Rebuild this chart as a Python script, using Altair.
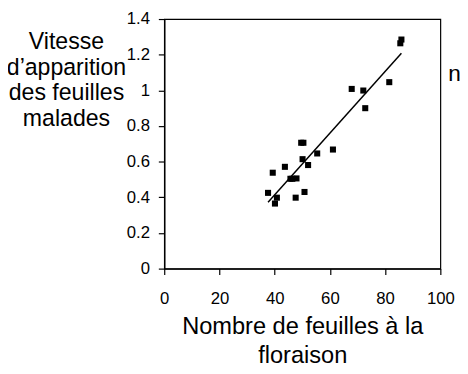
import altair as alt
import pandas as pd

leaves = [37.6, 39.3, 40.1, 40.8, 43.7, 45.7, 46.4, 47.9, 47.6, 49.6, 50.4,
          50.1, 50.8, 52.1, 55.4, 61.1, 67.9, 72.1, 72.8, 81.5, 85.5, 85.9]
speed = [0.425, 0.538, 0.365, 0.398, 0.571, 0.504, 0.504, 0.506, 0.398, 0.706, 0.706,
         0.614, 0.430, 0.581, 0.646, 0.668, 1.008, 0.999, 0.900, 1.046, 1.264, 1.285]

x_ticks = [0, 20, 40, 60, 80, 100]
y_ticks = [0, 0.2, 0.4, 0.6, 0.8, 1.0, 1.2, 1.4]

df = pd.DataFrame({"x": leaves, "y": speed})

FONT = "Liberation Sans"

xenc = alt.X("x:Q", scale=alt.Scale(domain=[0, 100], nice=False),
             axis=alt.Axis(values=x_ticks, title=["Nombre de feuilles à la", "floraison"],
                           labelFontSize=17, titleFontSize=24, labelPadding=17,
                           labelOverlap=False, labelFlush=False,
                           titlePadding=8, titleLineHeight=30, titleFontWeight="normal"))
yenc = alt.Y("y:Q", scale=alt.Scale(domain=[0, 1.4], nice=False),
             axis=alt.Axis(values=y_ticks, format=".1~f",
                           title=["Vitesse", "d’apparition", "des feuilles", "malades"],
                           labelFontSize=17, titleFontSize=23.5, labelPadding=9,
                           labelOverlap=False, labelFlush=False,
                           titleAngle=0, titleAlign="center", titleBaseline="top",
                           titleX=-100, titleY=11, titleLineHeight=26,
                           titleFontWeight="normal"))

base = alt.Chart(df)
points = base.mark_square(size=38, color="black", opacity=1).encode(x=xenc, y=yenc)
line = base.transform_regression("x", "y").mark_line(
    color="black", strokeWidth=1.5).encode(x=xenc, y=yenc)
stray = alt.Chart(pd.DataFrame({"t": ["n"]})).mark_text(
    align="left", baseline="alphabetic", fontSize=23, font=FONT, color="black"
).encode(x=alt.value(289), y=alt.value(63), text="t:N")

chart = alt.layer(points, line, stray).properties(
    width=281, height=254,
    autosize=alt.AutoSizeParams(type="none"),
    padding={"left": 159, "top": 8, "right": 20, "bottom": 104},
).configure_view(stroke="black", strokeWidth=1.2).configure_axis(
    grid=False, domainColor="black", tickColor="black", labelColor="black",
    titleColor="black", labelFont=FONT, titleFont=FONT, domainWidth=1.5,
    tickSize=6, tickWidth=1.2
)

chart.save("out.html", embed_options={"renderer": "svg", "actions": False})
